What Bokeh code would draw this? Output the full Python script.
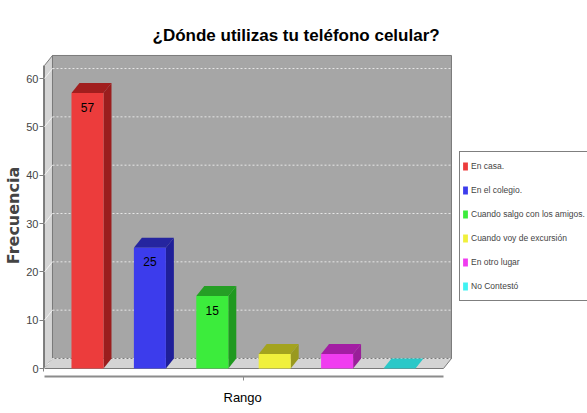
from bokeh.plotting import figure
from bokeh.models import ColumnDataSource, Range1d, FixedTicker, Legend, LegendItem, Title
from bokeh.embed import file_html
from bokeh.resources import INLINE
from bokeh.core.properties import value

# ---------------- data ----------------
title_text = "¿Dónde utilizas tu teléfono celular?"
x_label = "Rango"
y_label = "Frecuencia"
categories = ["En casa.", "En el colegio.", "Cuando salgo con los amigos.",
              "Cuando voy de excursión", "En otro lugar", "No Contestó"]
counts = [57, 25, 15, 3, 3, 0]
y_ticks = [0, 10, 20, 30, 40, 50, 60]
front_colors = ["#ec3c3c", "#3c3cec", "#3cec3c", "#f0f03c", "#f03cf0", "#40f2f2"]
top_colors = ["#a11e1e", "#25259f", "#259f25", "#a3a31e", "#a31ea3", "#2bc8c8"]
side_colors = ["#9a1e1e", "#1f1f99", "#1f991f", "#99991f", "#991f99", "#22b0b0"]

# ---------------- geometry (in data units) ----------------
BAR_W = 0.513        # bar width (category units)
DX = 0.128           # 3D depth offset, x
DY = 2.07            # 3D depth offset, y
XL, XR = -0.689, 5.705   # front edges of plot box
YT = 62.7                # top of plot box (front)

FONT = "Liberation Sans"

n = len(categories)
idx = list(range(n))

p = figure(width=587, height=413, output_backend="svg", toolbar_location=None,
           x_range=Range1d(-0.705, 8.013), y_range=Range1d(-1.655, 64.97),
           min_border_left=43, min_border_right=0, min_border_top=54,
           min_border_bottom=37)
p.outline_line_color = None
p.grid.visible = False
p.background_fill_color = "white"
p.border_fill_color = "white"

# ---- walls ----
p.patch([XL + DX, XR + DX, XR + DX, XL + DX], [DY, DY, YT + DY, YT + DY],
        fill_color="#a6a6a6", line_color="#7a7a7a", line_width=1)
p.patch([XL, XL + DX, XL + DX, XL], [0, DY, YT + DY, YT],
        fill_color="#d4d4d4", line_color="#7a7a7a", line_width=1)
p.patch([XL, XR, XR + DX, XL + DX], [0, 0, DY, DY],
        fill_color="#d4d4d4", line_color="#7a7a7a", line_width=1)

# ---- gridlines ----
p.segment(x0=[XL + DX] * len(y_ticks), y0=[t + DY for t in y_ticks],
          x1=[XR + DX] * len(y_ticks), y1=[t + DY for t in y_ticks],
          line_color="#e6e6e6", line_dash="2 2", line_width=1)
p.segment(x0=[XL] * len(y_ticks), y0=y_ticks,
          x1=[XL + DX] * len(y_ticks), y1=[t + DY for t in y_ticks],
          line_color="#f2f2f2", line_width=1)

# ---- bars ----
side_xs, side_ys, top_xs, top_ys = [], [], [], []
for i, v in zip(idx, counts):
    l, r = i - BAR_W / 2, i + BAR_W / 2
    side_xs.append([r, r + DX, r + DX, r])
    side_ys.append([0, DY, v + DY, v])
    top_xs.append([l, r, r + DX, l + DX])
    top_ys.append([v, v, v + DY, v + DY])

p.patches(xs=side_xs, ys=side_ys, fill_color=side_colors, line_color=None)
p.patches(xs=top_xs, ys=top_ys, fill_color=top_colors, line_color=None)

src = ColumnDataSource(dict(x=idx, top=counts, color=front_colors, cat=categories))
front = p.vbar(x="x", top="top", bottom=0, width=BAR_W, source=src,
               fill_color="color", line_color=None)

# ---- value labels (only where they fit) ----
lab_x = [i for i, v in zip(idx, counts) if v >= 10]
lab_y = [v for v in counts if v >= 10]
lab_t = [str(v) for v in counts if v >= 10]
p.text(x=lab_x, y=lab_y, text=lab_t, text_align="center", text_baseline="middle",
       y_offset=14, text_font=value(FONT), text_font_size="12px", text_color="black")

# ---- axes ----
p.yaxis.ticker = FixedTicker(ticks=y_ticks)
p.yaxis.bounds = (-0.6, YT)
p.yaxis.major_label_text_font = FONT
p.yaxis.major_label_text_font_size = "11px"
p.yaxis.major_label_text_color = "#444444"
p.yaxis.major_tick_out = 4
p.yaxis.major_tick_in = 0
p.yaxis.minor_tick_line_color = None
p.yaxis.axis_line_color = "#808080"
p.yaxis.major_tick_line_color = "#808080"
p.yaxis.major_label_standoff = 1
p.yaxis.axis_label = y_label
p.yaxis.axis_label_text_font = "DejaVu Sans"
p.yaxis.axis_label_text_font_style = "bold"
p.yaxis.axis_label_text_font_size = "16px"
p.yaxis.axis_label_standoff = 0

p.xaxis.ticker = FixedTicker(ticks=[(XL + XR) / 2])
p.xaxis.bounds = (XL, XR)
p.xaxis.major_label_overrides = {(XL + XR) / 2: ""}
p.xaxis.major_label_standoff = 0
p.xaxis.major_tick_out = 4
p.xaxis.major_tick_in = 0
p.xaxis.minor_tick_line_color = None
p.xaxis.axis_line_color = "#8c8c8c"
p.xaxis.axis_line_width = 2
p.xaxis.major_tick_line_color = "#8c8c8c"

# category-axis label, placed under the bars
p.add_layout(Title(text=x_label, text_font=FONT, text_font_style="normal",
                   text_font_size="13px", text_color="black",
                   align="left", offset=180, standoff=15), "below")

# ---- title ----
p.title.text = title_text
p.title.text_font = FONT
p.title.text_font_style = "bold"
p.title.text_font_size = "17px"
p.title.text_color = "black"
p.title.align = "left"
p.title.offset = 109
p.title.standoff = 19

# ---- legend ----
items = [LegendItem(label=c, renderers=[front], index=i) for i, c in enumerate(categories)]
legend = Legend(items=items, location=(416, 75), orientation="vertical",
                label_text_font=FONT, label_text_font_size="8.5px",
                glyph_width=6, glyph_height=10, label_height=24, spacing=0,
                padding=2, label_standoff=3, margin=0,
                border_line_color="black", border_line_width=1,
                background_fill_color="white", background_fill_alpha=1)
p.add_layout(legend, "center")

open("out.html", "w").write(file_html(p, INLINE))
